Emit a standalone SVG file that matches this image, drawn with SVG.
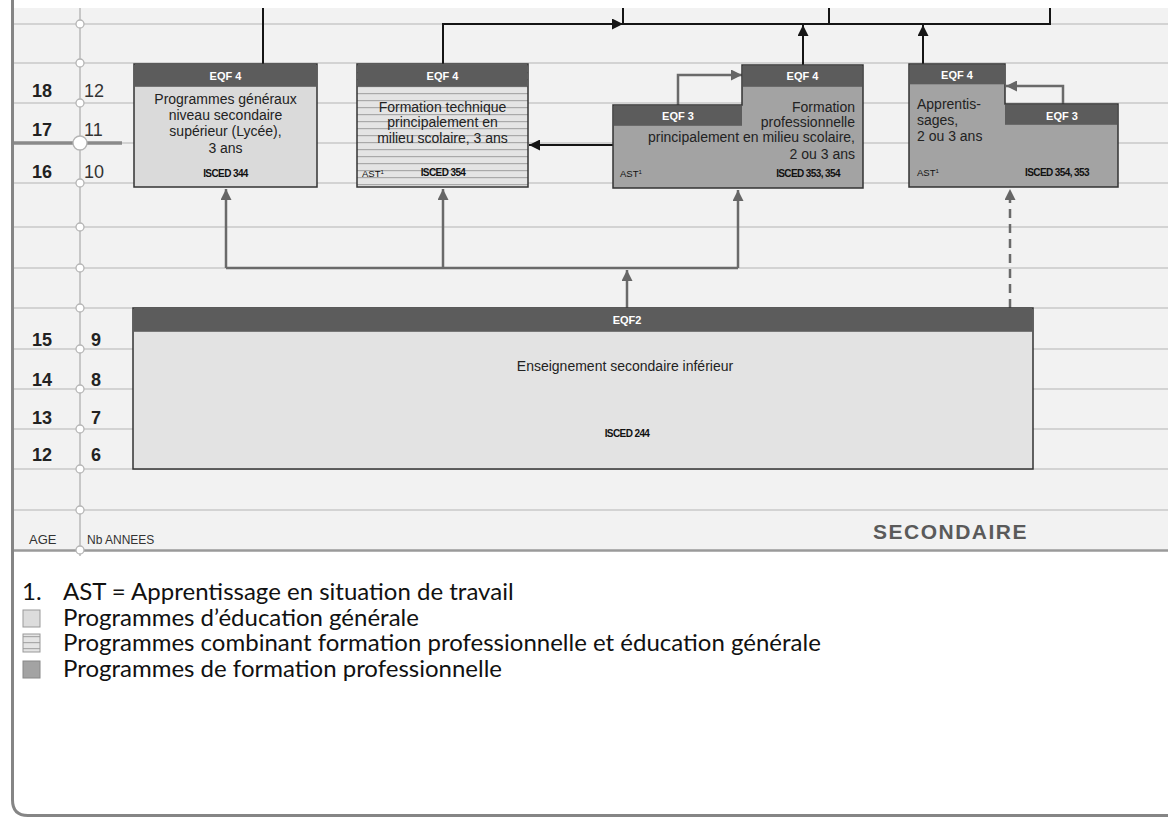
<svg xmlns="http://www.w3.org/2000/svg" width="1168" height="818" viewBox="0 0 1168 818">
<defs>
<style>
.grid{stroke:#c9c9c9;stroke-width:1.5;fill:none}
.dot{fill:#fff;stroke:#b5b5b5;stroke-width:1.3}
.age{font-family:"Liberation Sans",Arial,sans-serif;font-size:18px;font-weight:bold;fill:#222}
.yr{font-family:"Liberation Sans",Arial,sans-serif;font-size:18px;fill:#333}
.hdr{fill:#5c5c5c;stroke:none}
.ht{font-family:"Liberation Sans",Arial,sans-serif;font-size:11px;font-weight:bold;fill:#fff;text-anchor:middle}
.bt{font-family:"Liberation Sans",Arial,sans-serif;font-size:14px;fill:#222}
.mid{text-anchor:middle}
.end{text-anchor:end}
.isc{font-family:"Liberation Sans",Arial,sans-serif;font-size:10px;font-weight:bold;letter-spacing:-0.6px;fill:#111}
.ast{font-family:"Liberation Sans",Arial,sans-serif;font-size:9.5px;fill:#111}
.box{stroke:#333;stroke-width:1.5}
.cb{stroke:#151515;stroke-width:2;fill:none}
.cg{stroke:#6a6a6a;stroke-width:2.5;fill:none}
.leg{font-family:"Lato","Open Sans",sans-serif;font-size:24px;fill:#111}
</style>
<pattern id="stripes" patternUnits="userSpaceOnUse" x="0" y="86" width="10" height="7">
<rect width="10" height="7" fill="#e4e4e4"/>
<rect width="10" height="1.2" fill="#a9a9a9"/>
</pattern>
<pattern id="stripesL" patternUnits="userSpaceOnUse" x="0" y="634" width="10" height="6">
<rect width="10" height="6" fill="#e4e4e4"/>
<rect width="10" height="1.2" y="2" fill="#a9a9a9"/>
</pattern>
<marker id="ab" viewBox="0 0 10 10" refX="10" refY="5" markerWidth="11" markerHeight="11" markerUnits="userSpaceOnUse" orient="auto">
<path d="M0,0 L10,5 L0,10 z" fill="#151515"/>
</marker>
<marker id="ag" viewBox="0 0 10 10" refX="10" refY="5" markerWidth="12" markerHeight="11" markerUnits="userSpaceOnUse" orient="auto">
<path d="M0,0 L10,5 L0,10 z" fill="#666"/>
</marker>
</defs>

<rect x="0" y="0" width="1168" height="818" fill="#fff"/>
<!-- panel -->
<rect x="12" y="8" width="1156" height="542" fill="#f2f2f2"/>

<g id="grid">
<path class="grid" d="M12,24H1168M12,63H1168M12,103H1168M12,183H1168M12,227H1168M12,268H1168M12,308H1168M12,349H1168M12,389H1168M12,429H1168M12,469H1168M12,510H1168"/>
<path d="M12,143H1168" class="grid"/>
<path d="M12,143H122" stroke="#8a8a8a" stroke-width="3.5"/>
<path d="M12,550.5H1168" stroke="#9a9a9a" stroke-width="2.5"/>
<path d="M80,8V556" stroke="#b8b8b8" stroke-width="1.5"/>
<circle class="dot" cx="80" cy="24" r="4"/>
<circle class="dot" cx="80" cy="63" r="4"/>
<circle class="dot" cx="80" cy="103" r="4"/>
<circle class="dot" cx="80" cy="143" r="7"/>
<circle class="dot" cx="80" cy="183" r="4"/>
<circle class="dot" cx="80" cy="227" r="4"/>
<circle class="dot" cx="80" cy="268" r="4"/>
<circle class="dot" cx="80" cy="308" r="4"/>
<circle class="dot" cx="80" cy="349" r="4"/>
<circle class="dot" cx="80" cy="389" r="4"/>
<circle class="dot" cx="80" cy="429" r="4"/>
<circle class="dot" cx="80" cy="469" r="4"/>
<circle class="dot" cx="80" cy="510" r="4"/>
<circle class="dot" cx="80" cy="550" r="4"/>
</g>

<g id="frame">
<path d="M12.5,0V800Q12.5,815.5 28,815.5H1168" fill="none" stroke="#858585" stroke-width="3"/>
</g>

<g id="axis-labels">
<text class="age" x="32" y="97">18</text>
<text class="age" x="32" y="136">17</text>
<text class="age" x="32" y="178">16</text>
<text class="age" x="32" y="346">15</text>
<text class="age" x="32" y="386">14</text>
<text class="age" x="32" y="424">13</text>
<text class="age" x="32" y="461">12</text>
<text class="yr" x="84" y="97">12</text>
<text class="yr" x="84" y="136">11</text>
<text class="yr" x="84" y="178">10</text>
<text class="age" x="91" y="346">9</text>
<text class="age" x="91" y="386">8</text>
<text class="age" x="91" y="424">7</text>
<text class="age" x="91" y="461">6</text>
<text x="29" y="544" font-family="Liberation Sans, Arial, sans-serif" font-size="13" fill="#333">AGE</text>
<text x="87" y="544" font-family="Liberation Sans, Arial, sans-serif" font-size="12" fill="#333">Nb ANNEES</text>
<text x="873" y="539" font-family="Liberation Sans, Arial, sans-serif" font-size="21" font-weight="bold" letter-spacing="1.5" fill="#5a5a5a">SECONDAIRE</text>
</g>

<g id="connectors">
<path class="cb" d="M263,8V64"/>
<path class="cb" d="M443,64V24H623" marker-end="url(#ab)"/>
<path class="cb" d="M623,8V24H1050V8M829,8V24"/>
<path class="cb" d="M803,65V25" marker-end="url(#ab)"/>
<path class="cb" d="M923,64V25" marker-end="url(#ab)"/>
<path class="cb" d="M613,145H529" marker-end="url(#ab)"/>
<path class="cg" d="M226,268H738"/>
<path class="cg" d="M627,308V270" marker-end="url(#ag)"/>
<path class="cg" d="M226,268V189" marker-end="url(#ag)"/>
<path class="cg" d="M443,268V189" marker-end="url(#ag)"/>
<path class="cg" d="M738,268V190" marker-end="url(#ag)"/>
<path class="cg" d="M1010,308V189" stroke-dasharray="9,6" marker-end="url(#ag)"/>
<path class="cg" d="M678,105V75H742" marker-end="url(#ag)"/>
<path class="cg" d="M1063,104V86H1006" marker-end="url(#ag)"/>
</g>

<g id="node-general">
<rect class="box" x="134" y="64" width="183" height="123" fill="#dadada"/>
<rect class="hdr" x="134.8" y="64.8" width="181.4" height="22"/>
<text class="ht" x="225.5" y="80">EQF 4</text>
<text class="bt mid" x="225.5" y="104">Programmes généraux</text>
<text class="bt mid" x="225.5" y="120">niveau secondaire</text>
<text class="bt mid" x="225.5" y="136">supérieur (Lycée),</text>
<text class="bt mid" x="225.5" y="153">3 ans</text>
<text class="isc mid" x="225.5" y="177">ISCED 344</text>
</g>

<g id="node-technique">
<rect class="box" x="357" y="64" width="171" height="123" fill="url(#stripes)"/>
<rect class="hdr" x="357.8" y="64.8" width="169.4" height="22"/>
<text class="ht" x="442.5" y="80">EQF 4</text>
<text class="bt mid" x="442.5" y="112">Formation technique</text>
<text class="bt mid" x="442.5" y="127">principalement en</text>
<text class="bt mid" x="442.5" y="143">milieu scolaire, 3 ans</text>
<text class="ast" x="362" y="177">AST<tspan font-size="6" dy="-3">1</tspan></text>
<text class="isc mid" x="443" y="176">ISCED 354</text>
</g>

<g id="node-professionnelle">
<path class="box" d="M613,105H742V65H863V188H613Z" fill="#a3a3a3"/>
<rect class="hdr" x="742.8" y="65.8" width="119.4" height="21"/>
<rect class="hdr" x="613.8" y="105.8" width="128.2" height="20"/>
<text class="ht" x="802.5" y="80">EQF 4</text>
<text class="ht" x="678" y="120">EQF 3</text>
<text class="bt end" x="855" y="112">Formation</text>
<text class="bt end" x="855" y="127">professionnelle</text>
<text class="bt end" x="855" y="142">principalement en milieu scolaire,</text>
<text class="bt end" x="855" y="159">2 ou 3 ans</text>
<text class="ast" x="620" y="177">AST<tspan font-size="6" dy="-3">1</tspan></text>
<text class="isc end" x="840" y="177">ISCED 353, 354</text>
</g>

<g id="node-apprentissages">
<path class="box" d="M909,64H1005V104H1118V187H909Z" fill="#a3a3a3"/>
<rect class="hdr" x="909.8" y="64.8" width="95.2" height="19.5"/>
<rect class="hdr" x="1005" y="104.8" width="112.2" height="20"/>
<text class="ht" x="957" y="79">EQF 4</text>
<text class="ht" x="1062" y="120">EQF 3</text>
<text class="bt" x="917" y="109">Apprentis-</text>
<text class="bt" x="917" y="125">sages,</text>
<text class="bt" x="917" y="141">2 ou 3 ans</text>
<text class="ast" x="917" y="176">AST<tspan font-size="6" dy="-3">1</tspan></text>
<text class="isc mid" x="1057" y="176">ISCED 354, 353</text>
</g>

<g id="node-eqf2">
<rect class="box" x="133" y="308" width="900" height="161" fill="#e3e3e3"/>
<rect class="hdr" x="133.8" y="308.8" width="898.4" height="23"/>
<text class="ht" x="627" y="324">EQF2</text>
<text class="bt mid" x="625" y="371" font-size="16">Enseignement secondaire inférieur</text>
<text class="isc mid" x="627" y="437">ISCED 244</text>
</g>

<g id="legend">
<text class="leg" x="22" y="600">1.</text>
<text class="leg" x="63" y="600">AST = Apprentissage en situation de travail</text>
<rect x="23" y="610" width="17" height="17" fill="#dcdcdc" stroke="#999" stroke-width="1"/>
<text class="leg" x="63" y="626">Programmes d’éducation générale</text>
<rect x="23" y="634" width="17" height="18" fill="url(#stripesL)" stroke="#999" stroke-width="1"/>
<text class="leg" x="63" y="651">Programmes combinant formation professionnelle et éducation générale</text>
<rect x="23" y="661" width="17" height="17" fill="#a3a3a3" stroke="#888" stroke-width="1"/>
<text class="leg" x="63" y="677">Programmes de formation professionnelle</text>
</g>
</svg>
